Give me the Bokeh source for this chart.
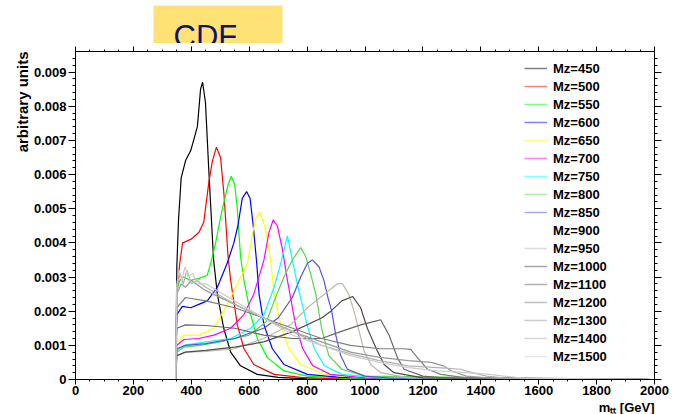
import math
from bokeh.plotting import figure
from bokeh.models import (Range1d, LinearAxis, SingleIntervalTicker, Legend, LegendItem,
                          Title, CustomJSTickFormatter)
from bokeh.layouts import column
from bokeh.core.properties import value
from bokeh.embed import file_html
from bokeh.resources import INLINE

# ---------------- data ----------------
title_text = "CDF"
y_axis_title = "arbitrary units"
x_axis_title = "m\u209c\u209c [GeV]"

masses = [450, 500, 550, 600, 650, 700, 750, 800, 850, 900, 950, 1000, 1100, 1200, 1300, 1400, 1500]
colors = ["#000000", "#ff0000", "#00ff00", "#0000ff", "#ffff00", "#ff00ff", "#00ffff",
          "#59d454", "#5954d8", "#ffffff", "#c0b6ac", "#4c4c4c", "#666666", "#7f7f7f",
          "#999999", "#b2b2b2", "#cccccc"]

x450 = [0, 346, 350, 356, 365, 380, 398, 408, 421, 432, 439, 449, 460, 477, 490, 512, 536, 570, 628, 700, 800, 2000]
y450 = [0, 0, 0.0033, 0.0047, 0.0059, 0.0064, 0.0067, 0.0070, 0.0074, 0.0085, 0.0087, 0.0081, 0.0062, 0.0035,
        0.0025, 0.0015, 0.0008, 0.0004, 0.00015, 0.00006, 0.00002, 0]

x500 = [0, 346, 350, 360, 370, 398, 426, 443, 461, 473, 487, 501, 513, 527, 536, 559, 582, 616, 686, 778, 900, 2000]
y500 = [0, 0, 0.0025, 0.0034, 0.0040, 0.0041, 0.0043, 0.0046, 0.0058, 0.0064, 0.0068, 0.0065, 0.0054, 0.0036,
        0.0029, 0.0016, 0.0009, 0.00044, 0.00015, 0.00006, 0.00002, 0]

x550 = [0, 346, 350, 360, 374, 398, 426, 455, 467, 484, 500, 513, 527, 538, 550, 559, 570, 582, 605, 628, 663,
        720, 801, 950, 2000]
y550 = [0, 0, 0.0026, 0.0029, 0.0030, 0.0029, 0.00296, 0.00305, 0.0034, 0.0040, 0.0047, 0.0052, 0.0057, 0.00595,
        0.0057, 0.0050, 0.0036, 0.0029, 0.0019, 0.0012, 0.00064, 0.00025, 0.0001, 0.00003, 0]

x600 = [0, 346, 350, 369, 398, 426, 455, 490, 524, 547, 561, 576, 591, 603, 614, 626, 634, 651, 680, 720, 801, 916, 2000]
y600 = [0, 0, 0.0019, 0.00214, 0.0021, 0.0022, 0.0023, 0.0027, 0.0034, 0.0040, 0.0045, 0.0053, 0.0055, 0.0053,
        0.0045, 0.0034, 0.0025, 0.0016, 0.0009, 0.00044, 0.00015, 0.00006, 0]

x650 = [0, 346, 350, 374, 426, 478, 524, 559, 594, 610, 622, 637, 657, 674, 686, 709, 737, 778, 858, 974, 2000]
y650 = [0, 0, 0.0011, 0.0013, 0.0013, 0.0015, 0.0022, 0.0028, 0.0034, 0.0042, 0.0047, 0.0049, 0.0044, 0.0035,
        0.0025, 0.0016, 0.0009, 0.00044, 0.00015, 0.00006, 0]

x700 = [0, 346, 350, 374, 426, 478, 536, 582, 616, 651, 668, 683, 697, 715, 732, 743, 760, 785, 820, 880, 1000, 2000]
y700 = [0, 0, 0.0010, 0.00117, 0.0012, 0.0013, 0.0015, 0.0019, 0.0025, 0.0035, 0.0043, 0.00467, 0.0045, 0.0038,
        0.0029, 0.0024, 0.0016, 0.0009, 0.0004, 0.00015, 0.00005, 0]

x750 = [0, 346, 350, 375, 426, 536, 605, 651, 686, 709, 732, 749, 766, 780, 800, 825, 860, 920, 1050, 2000]
y750 = [0, 0, 0.00085, 0.0010, 0.00107, 0.0012, 0.0015, 0.0019, 0.0027, 0.0034, 0.0042, 0.0035, 0.0028, 0.0023,
        0.0016, 0.0009, 0.0004, 0.00015, 0.00005, 0]

x800 = [0, 346, 350, 375, 430, 500, 600, 660, 691, 720, 749, 778, 795, 812, 830, 850, 875, 920, 1000, 2000]
y800 = [0, 0, 0.0008, 0.00095, 0.0010, 0.0011, 0.0013, 0.0017, 0.0024, 0.0030, 0.0035, 0.00386, 0.0036, 0.0031,
        0.0025, 0.0015, 0.0007, 0.0003, 0.0001, 0]

x850 = [0, 346, 350, 380, 450, 550, 650, 700, 749, 778, 801, 818, 841, 858, 872, 885, 899, 916, 939, 1000, 1100, 2000]
y850 = [0, 0, 0.0009, 0.0010, 0.00105, 0.0012, 0.0015, 0.0018, 0.0024, 0.0030, 0.0034, 0.0035, 0.0033, 0.0029,
        0.0024, 0.0020, 0.0013, 0.0007, 0.0003, 0.0001, 0.00003, 0]

x900 = [0, 346, 350, 400, 500, 600, 700, 780, 840, 870, 900, 930, 960, 1000, 1100, 2000]
y900 = [0, 0, 0.0008, 0.0009, 0.0010, 0.0012, 0.0015, 0.0021, 0.0028, 0.0031, 0.0029, 0.0018, 0.0008, 0.0003,
        0.00008, 0]

x950 = [0, 346, 350, 380, 450, 550, 650, 743, 801, 870, 905, 922, 945, 962, 980, 997, 1020, 1054, 1150, 2000]
y950 = [0, 0, 0.0007, 0.0008, 0.00082, 0.0009, 0.0012, 0.0016, 0.0021, 0.00257, 0.0028, 0.00281, 0.00247, 0.0020,
        0.0014, 0.00083, 0.00044, 0.0002, 0.00005, 0]

x1000 = [0, 346, 350, 380, 450, 550, 650, 750, 850, 882, 920, 957, 985, 1008, 1043, 1066, 1100, 1200, 2000]
y1000 = [0, 0, 0.0007, 0.0008, 0.00085, 0.00095, 0.0011, 0.0014, 0.0018, 0.0020, 0.0023, 0.00243, 0.0021,
         0.0015, 0.00083, 0.00044, 0.0002, 0.00005, 0]

x1100 = [0, 346, 350, 380, 450, 550, 650, 750, 850, 916, 985, 1033, 1054, 1083, 1112, 1135, 1200, 1300, 2000]
y1100 = [0, 0, 0.0015, 0.0016, 0.00158, 0.0015, 0.0013, 0.0012, 0.0012, 0.0014, 0.0016, 0.0017, 0.00175,
         0.0013, 0.00064, 0.0003, 0.0001, 0.00003, 0]

x1200 = [0, 346, 350, 380, 450, 550, 650, 750, 850, 950, 1050, 1130, 1158, 1181, 1216, 1262, 1350, 2000]
y1200 = [0, 0, 0.0021, 0.0024, 0.0023, 0.0021, 0.0018, 0.0015, 0.0012, 0.0010, 0.0009, 0.0009, 0.00088,
         0.00064, 0.0003, 0.00015, 0.00005, 0]

x1300 = [0, 346, 350, 365, 380, 400, 450, 550, 650, 750, 850, 950, 1050, 1150, 1230, 1270, 1300, 1350, 1450, 2000]
y1300 = [0, 0, 0.0025, 0.0028, 0.0027, 0.0029, 0.0026, 0.0022, 0.0018, 0.0014, 0.0011, 0.0008, 0.00065,
         0.00055, 0.0005, 0.0004, 0.00025, 0.0001, 0.00003, 0]

x1400 = [0, 346, 350, 362, 372, 385, 400, 420, 450, 550, 650, 750, 850, 950, 1050, 1150, 1250, 1330, 1370,
         1420, 1500, 2000]
y1400 = [0, 0, 0.0027, 0.0031, 0.0028, 0.0032, 0.0028, 0.0029, 0.0027, 0.0022, 0.0018, 0.0014, 0.0010,
         0.00075, 0.00055, 0.0004, 0.00035, 0.0003, 0.0002, 0.0001, 0.00003, 0]

x1500 = [0, 346, 350, 358, 368, 378, 390, 405, 420, 450, 550, 650, 750, 850, 950, 1050, 1150, 1250, 1350,
         1430, 1480, 1550, 2000]
y1500 = [0, 0, 0.0028, 0.0032, 0.0029, 0.0033, 0.0030, 0.0031, 0.0028, 0.0028, 0.0023, 0.0018, 0.0013,
         0.0010, 0.0007, 0.0005, 0.00035, 0.00025, 0.0002, 0.00015, 0.0001, 0.00004, 0]

series_x = [x450, x500, x550, x600, x650, x700, x750, x800, x850, x900, x950, x1000, x1100, x1200, x1300, x1400, x1500]
series_y = [y450, y500, y550, y600, y650, y700, y750, y800, y850, y900, y950, y1000, y1100, y1200, y1300, y1400, y1500]

X_MIN, X_MAX = 0, 2000
Y_MIN, Y_MAX = 0, 0.0096

FONT = "Liberation Sans"

# ---------------- title strip (same frame width as the main plot) ----------------
t = figure(width=679, height=43, x_range=Range1d(0, 579), y_range=Range1d(0, 43),
           output_backend="svg", toolbar_location=None,
           min_border_left=75, min_border_right=25, min_border_top=0, min_border_bottom=0,
           x_axis_location=None, y_axis_location=None,
           background_fill_color="white", border_fill_color="white", outline_line_color=None)
t.grid.visible = False
t.quad(left=[78], right=[207], bottom=[0], top=[38], fill_color="#fee276", line_color=None)
t.text(x=[98], y=[7], text=[title_text], text_font=value(FONT), text_font_size="31px",
       text_color="#11116b", text_align="left", text_baseline="alphabetic")

# ---------------- main plot ----------------
p = figure(width=679, height=371, x_range=Range1d(X_MIN, X_MAX), y_range=Range1d(Y_MIN, Y_MAX),
           output_backend="svg", toolbar_location=None,
           min_border_left=75, min_border_right=25, min_border_top=8, min_border_bottom=32,
           background_fill_alpha=0, border_fill_color="white")
p.grid.visible = False
p.outline_line_color = "black"
p.outline_line_width = 1

# invisible (white) 900 curve first so it doesn't hide others
order = [9] + [i for i in range(len(masses)) if i != 9]
for i in order:
    p.line(series_x[i], series_y[i], line_color=colors[i], line_width=1.2)

xticker = SingleIntervalTicker(interval=200, num_minor_ticks=4)
yticker = SingleIntervalTicker(interval=0.001, num_minor_ticks=5)

def style_common(ax, major, minor):
    ax.major_tick_in = 0
    ax.major_tick_out = major
    ax.minor_tick_in = 0
    ax.minor_tick_out = minor
    ax.axis_line_color = "black"
    ax.major_tick_line_color = "black"
    ax.minor_tick_line_color = "black"

def blank_labels(ax):
    ax.formatter = CustomJSTickFormatter(code="return '';")
    ax.major_label_text_font_size = "0px"
    ax.major_label_standoff = 0

xa = p.xaxis[0]
xa.ticker = xticker
style_common(xa, 5, 2)
xa.major_label_text_font = FONT
xa.major_label_text_font_style = "bold"
xa.major_label_text_font_size = "13px"
xa.major_label_text_color = "black"
xa.major_label_standoff = 1

ya = p.yaxis[0]
ya.ticker = yticker
style_common(ya, 7, 3)
ya.formatter = CustomJSTickFormatter(code="return Math.abs(tick) < 1e-12 ? '0' : tick.toFixed(3);")
ya.major_label_text_font = FONT
ya.major_label_text_font_style = "bold"
ya.major_label_text_font_size = "13px"
ya.major_label_text_color = "black"
ya.major_label_standoff = 2

top_ax = LinearAxis(ticker=xticker)
style_common(top_ax, 5, 2)
blank_labels(top_ax)
p.add_layout(top_ax, "above")

right_ax = LinearAxis(ticker=yticker)
style_common(right_ax, 7, 3)
blank_labels(right_ax)
p.add_layout(right_ax, "right")

# legend (faded sample lines as in the reference); dummy renderers hold one NaN point
nan = float("nan")
items = []
for m, c in zip(masses, colors):
    r = p.line([nan], [nan], line_color=c, line_width=1.5, line_alpha=0.5)
    items.append(LegendItem(label=f"M\u1d22={m}", renderers=[r]))
legend = Legend(items=items, location=(449, 14), padding=0, margin=0, spacing=0,
                glyph_width=23, glyph_height=18, label_height=18, label_standoff=6,
                border_line_color=None, background_fill_alpha=0,
                label_text_font=FONT, label_text_font_style="bold", label_text_font_size="13px",
                label_text_color="black")
p.add_layout(legend)

p.add_layout(Title(text=y_axis_title, align="right", text_font=FONT, text_font_style="bold",
                   text_font_size="15px", text_color="black", standoff=0, offset=0), "left")
p.add_layout(Title(text=x_axis_title, align="right", text_font=FONT, text_font_style="bold",
                   text_font_size="13px", text_color="black", standoff=0, offset=0), "below")

layout = column(t, p, spacing=0)
open("out.html", "w").write(file_html(layout, INLINE))
